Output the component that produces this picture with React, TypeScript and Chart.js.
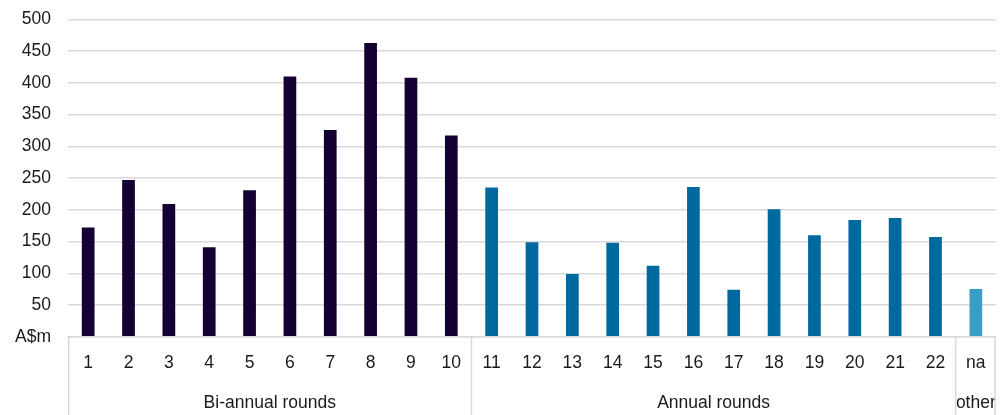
import React, { useEffect, useRef } from "react";
import { Chart, registerables } from "chart.js";

Chart.register(...registerables);

const rounds = ["1","2","3","4","5","6","7","8","9","10","11","12","13","14","15","16","17","18","19","20","21","22","na"];
const values = [172, 247, 209, 141, 231, 410, 326, 463, 408, 317, 235, 149, 99, 148, 112, 236, 74, 201, 160, 184, 187, 157, 75];
const groupNames = ["Bi-annual rounds", "Annual rounds", "other"];
const groupSizes = [10, 12, 1];
const yTicks = [0, 50, 100, 150, 200, 250, 300, 350, 400, 450, 500];
const yUnit = "A$m";

const groupColors = ["#140032", "#00699d", "#3c9dc4"];
const FONT = "'Liberation Sans', Arial, sans-serif";

export default function App() {
  const ref = useRef<HTMLCanvasElement | null>(null);
  useEffect(() => {
    if (!ref.current) return;
    const barGroup: number[] = [];
    groupSizes.forEach((n, g) => { for (let i = 0; i < n; i++) barGroup.push(g); });
    const bounds: number[] = [-0.5];
    const centers: number[] = [];
    let acc = 0;
    groupSizes.forEach((n) => { centers.push(acc + (n - 1) / 2); acc += n; bounds.push(acc - 0.5); });

    const separators = {
      id: "separators",
      afterDraw(chart: any) {
        const s = chart.scales.x2;
        const ctx = chart.ctx;
        ctx.save();
        ctx.strokeStyle = "#d9d9d9";
        ctx.lineWidth = 1.5;
        bounds.forEach((b) => {
          let px = s.getPixelForValue(b);
          px = Math.min(Math.max(px, chart.chartArea.left + 0.75), chart.width - 1);
          ctx.beginPath();
          ctx.moveTo(px, chart.chartArea.bottom);
          ctx.lineTo(px, chart.height);
          ctx.stroke();
        });
        ctx.restore();
      },
    };

    const chart = new Chart(ref.current, {
      type: "bar",
      data: {
        labels: rounds,
        datasets: [
          {
            data: values,
            backgroundColor: barGroup.map((g) => groupColors[g]),
            barPercentage: 0.315,
            categoryPercentage: 1,
          },
        ],
      },
      options: {
        animation: false,
        responsive: true,
        maintainAspectRatio: false,
        layout: { padding: { top: 11.5, right: 0, left: 0, bottom: 0 } },
        plugins: { legend: { display: false }, tooltip: { enabled: false } },
        scales: {
          y: {
            min: 0,
            max: 500,
            afterBuildTicks: (axis: any) => { axis.ticks = yTicks.map((v) => ({ value: v })); },
            afterFit: (axis: any) => { axis.width = 60; axis.paddingTop = 0; axis.paddingBottom = 0; },
            border: { display: false },
            grid: { color: "#d9d9d9", lineWidth: 1.5, drawTicks: false },
            ticks: {
              padding: 17,
              color: "#1a1a1a",
              font: { family: FONT, size: 17.5 },
              callback: (v: any) => (Number(v) === 0 ? yUnit : String(v)),
            },
          },
          x: {
            weight: 1,
            offset: true,
            afterFit: (axis: any) => { axis.height = 46; axis.paddingLeft = 0; axis.paddingRight = 0; },
            border: { display: true, color: "#d9d9d9", width: 1.5 },
            grid: { display: false, drawTicks: false },
            ticks: {
              padding: 16,
              maxRotation: 0,
              autoSkip: false,
              color: "#1a1a1a",
              font: { family: FONT, size: 17.5 },
            },
          },
          x2: {
            type: "linear",
            position: "bottom",
            weight: 2,
            min: -0.5,
            max: rounds.length - 0.5,
            offset: false,
            afterFit: (axis: any) => { axis.height = 32.3; axis.paddingLeft = 0; axis.paddingRight = 0; },
            afterBuildTicks: (axis: any) => { axis.ticks = centers.map((v) => ({ value: v })); },
            border: { display: false },
            grid: { display: false, drawTicks: false },
            ticks: {
              padding: 10,
              maxRotation: 0,
              autoSkip: false,
              color: "#1a1a1a",
              font: { family: FONT, size: 17.5 },
              callback: (v: any) => {
                const i = centers.indexOf(Number(v));
                return i >= 0 ? groupNames[i] : "";
              },
            },
          },
        },
      },
      plugins: [separators],
    } as any);
    return () => chart.destroy();
  }, []);
  return (
    <div style={{ width: 988, height: 407, position: "relative" }}>
      <canvas ref={ref} />
    </div>
  );
}
